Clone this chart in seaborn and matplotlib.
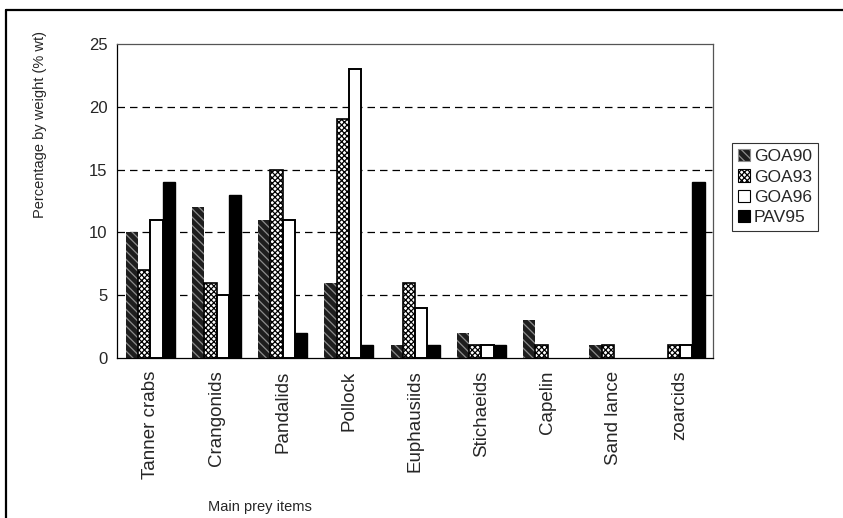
import numpy as np
import pandas as pd
import matplotlib.pyplot as plt
import seaborn as sns
from matplotlib.patches import Patch
from matplotlib.lines import Line2D

prey = ["Tanner crabs", "Crangonids", "Pandalids", "Pollock", "Euphausiids",
        "Stichaeids", "Capelin", "Sand lance", "zoarcids"]
series = ["GOA90", "GOA93", "GOA96", "PAV95"]
goa90 = [10, 12, 11, 6, 1, 2, 3, 1, 0]
goa93 = [7, 6, 15, 19, 6, 1, 1, 1, 1]
goa96 = [11, 5, 11, 23, 4, 1, 0, 0, 1]
pav95 = [14, 13, 2, 1, 1, 1, 0, 0, 14]

df = pd.DataFrame({"prey": prey, "GOA90": goa90, "GOA93": goa93,
                   "GOA96": goa96, "PAV95": pav95})
df = df.melt(id_vars="prey", var_name="survey", value_name="pct")

sns.set_style("white")
plt.rcParams["font.family"] = ["Liberation Sans", "DejaVu Sans"]
plt.rcParams["hatch.linewidth"] = 0.9

# style per series: face, edge, hatch, edge width
styles = {
    "GOA90": dict(facecolor="#1e1e1e", edgecolor="#8c8c8c", hatch="\\\\\\\\", linewidth=0),
    "GOA93": dict(facecolor="white", edgecolor="black", hatch="xxxxxx", linewidth=1.2),
    "GOA96": dict(facecolor="white", edgecolor="black", hatch=None, linewidth=1.4),
    "PAV95": dict(facecolor="black", edgecolor="black", hatch=None, linewidth=1.0),
}

fig = plt.figure(figsize=(8.43, 5.18), dpi=100)
ax = fig.add_axes([0.139, 0.309, 0.707, 0.606])

sns.barplot(data=df, x="prey", y="pct", hue="survey", order=prey,
            hue_order=series, width=0.74, legend=False, ax=ax)

for name, cont in zip(series, ax.containers):
    for bar in cont:
        bar.set(**styles[name])
        if bar.get_height() == 0:
            bar.set_visible(False)

ax.set_xlim(-0.5, len(prey) - 0.5)
ax.set_ylim(0, 25)
ax.set_yticks([0, 5, 10, 15, 20, 25])
ax.tick_params(axis="y", direction="inout", length=8, width=0.8, labelsize=12, pad=3)

# category boundaries as major ticks, labels at centers
ax.set_xticks(np.arange(-0.5, len(prey)), labels=[""] * (len(prey) + 1))
ax.set_xticks(np.arange(len(prey)), labels=prey, minor=True)
ax.tick_params(axis="x", which="major", direction="out", length=5, width=0.8)
ax.tick_params(axis="x", which="minor", length=0, labelsize=13.5, rotation=90, pad=9)

for y in [5, 10, 15, 20]:
    ax.axhline(y, color="black", lw=0.9, ls=(0, (6, 4)), zorder=0.5)

for s in ax.spines.values():
    s.set_color("black")
    s.set_linewidth(0.9)
ax.spines["top"].set_color("#555555")
ax.spines["right"].set_color("#555555")

ax.set_xlabel("")
ax.set_ylabel("")
fig.text(40 / 843, 1 - 125 / 518, "Percentage by weight (% wt)", rotation=90,
         ha="center", va="center", fontsize=10.5)
fig.text(260 / 843, 1 - 507 / 518, "Main prey items", ha="center", va="center",
         fontsize=10.5)

handles = [Patch(**{k: v for k, v in styles[n].items() if k != "linewidth"},
                 linewidth=0.8) for n in series]
leg = fig.legend(handles, series, loc="upper left",
                 bbox_to_anchor=(732 / 843, 1 - 143 / 518), frameon=True,
                 fancybox=False, edgecolor="black", fontsize=12.5,
                 handlelength=0.7, handleheight=0.7, handletextpad=0.2,
                 labelspacing=0.3, borderpad=0.35, borderaxespad=0)
leg.get_frame().set_linewidth(0.8)

# scanned page frame: top and left edges
fig.add_artist(Line2D([6 / 843, 1], [1 - 10 / 518, 1 - 10 / 518],
                      transform=fig.transFigure, color="black", lw=1.6))
fig.add_artist(Line2D([6 / 843, 6 / 843], [0, 1 - 10 / 518],
                      transform=fig.transFigure, color="black", lw=1.6))

fig.savefig("out.png", dpi=100)
